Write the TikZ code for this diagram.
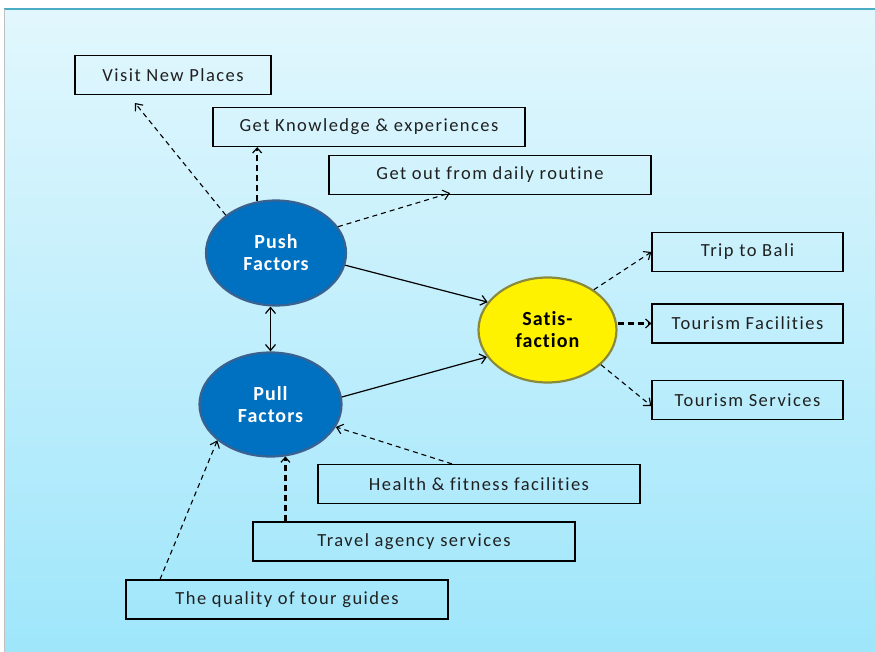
\documentclass[tikz,border=0pt]{standalone}
\usepackage{fontspec}
\setmainfont{Carlito}
\newfontfamily\boxfont[LetterSpace=8,Ligatures={NoCommon,NoRare}]{Carlito}
\newfontfamily\elfont[LetterSpace=5,Ligatures={NoCommon,NoRare}]{Carlito}
\usetikzlibrary{arrows.meta,shapes.geometric}
\definecolor{bgtop}{HTML}{E2F7FD}
\definecolor{bgbot}{HTML}{9FE6FB}
\definecolor{frameline}{HTML}{4BACC6}
\definecolor{pushfill}{HTML}{0070C0}
\definecolor{pushedge}{HTML}{3A6290}
\definecolor{satedge}{HTML}{8A8A3A}
\definecolor{boxtext}{HTML}{202020}
\tikzset{
  box/.style={draw=black,line width=1.2pt,minimum height=39pt,inner sep=0pt,text=boxtext,font=\boxfont\fontsize{18.5}{20}\selectfont},
  factor/.style={ellipse,draw=pushedge,line width=2.2pt,fill=pushfill,text=white,font=\elfont\bfseries\fontsize{20}{22}\selectfont,align=center,inner sep=0pt},
  sat/.style={ellipse,draw=satedge,line width=2.2pt,fill=yellow,text=black,font=\elfont\bfseries\fontsize{20}{22}\selectfont,align=center,inner sep=0pt},
  tip/.style={-{Straight Barb[length=6pt,width=10pt]}},
  dline/.style={dashed,dash pattern=on 5pt off 4pt,line width=1.1pt,tip},
  dthick/.style={dashed,dash pattern=on 6pt off 4pt,line width=2.2pt,-{Straight Barb[length=5pt,width=9pt,line width=1.2pt]}},
  sline/.style={line width=1.2pt,tip},
}
\begin{document}
\begin{tikzpicture}[x=1pt,y=-1pt]
\useasboundingbox (0,0) rectangle (875,652);
\fill[white] (0,0) rectangle (875,652);
\shade[top color=bgtop,bottom color=bgbot] (5,9) rectangle (875,652);
\draw[frameline,line width=1.5pt] (4,9) -- (875,9);
\draw[gray!50,line width=0.8pt] (4.5,9) -- (4.5,652);

% boxes
\node[box,minimum width=196pt] (visit) at (173,75) {Visit New Places};
\node[box,minimum width=312pt] (know) at (369,127) {Get Knowledge \& experiences};
\node[box,minimum width=322pt] (daily) at (490,175) {Get out from daily routine};
\node[box,minimum width=191pt] (bali) at (747.5,252) {Trip to Bali};
\node[box,minimum width=191pt] (facil) at (747.5,323.5) {Tourism Facilities};
\node[box,minimum width=191pt] (serv) at (747.5,400) {Tourism Services};
\node[box,minimum width=322pt] (health) at (479,484) {Health \& fitness facilities};
\node[box,minimum width=322pt] (travel) at (414,541.5) {Travel agency services};
\node[box,minimum width=322pt] (guides) at (287,599.5) {The quality of tour guides};

% ellipses
\node[factor,minimum width=140pt,minimum height=105pt] (push) at (276,253) {Push\\Factors};
\node[factor,minimum width=142pt,minimum height=104pt] (pull) at (270.5,404.5) {Pull\\Factors};
\node[sat,minimum width=138pt,minimum height=105pt] (satis) at (547.5,330) {Satis-\\faction};

% connectors
\coordinate (vt) at (135,103);
\coordinate (dt) at (450,193);
\draw[dline] (push.143) -- (vt);
\draw[dthick] (push.110) -- (push.110 |- know.south);
\draw[dline] (push.23) -- (dt);
\draw[sline] (push.-10) -- (satis.155);
\draw[sline] (pull.6) -- (satis.204);
\draw[line width=1.2pt,{Straight Barb[length=6pt,width=10pt]}-{Straight Barb[length=6pt,width=10pt]}] (pull.north |- push.south) -- (pull.north);
\draw[dline] (satis.41) -- (bali.west);
\draw[dthick] (satis.east |- facil.west) -- (facil.west);
\draw[dline] (satis.-33) -- ([yshift=-6pt]serv.west);
\draw[dline] ([xshift=-27pt]health.north) -- (pull.-19);
\draw[dthick] (travel.north -| pull.-74) -- (pull.-74);
\draw[dline] ([xshift=-127pt]guides.north) -- (pull.-146);
\end{tikzpicture}
\end{document}
